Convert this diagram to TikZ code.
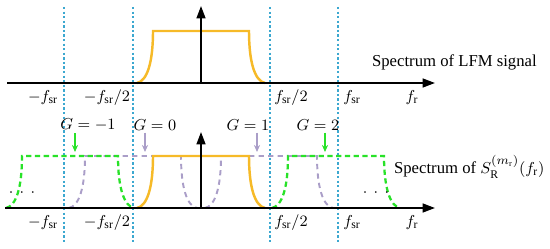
\documentclass[tikz,border=0pt]{standalone}
\usepackage{fontspec}
\setmainfont{Liberation Serif}
\usetikzlibrary{arrows.meta,positioning,calc}
\definecolor{lfmorange}{RGB}{246,186,40}
\definecolor{repgreen}{RGB}{40,226,40}
\definecolor{reppurple}{RGB}{170,158,200}
\definecolor{gridcyan}{RGB}{60,168,208}

\begin{document}
\begin{tikzpicture}[
  x=0.02cm, y=-0.02cm, font=\fontsize{9.5}{11}\selectfont,
  axis/.style={-{Triangle[length=7pt,width=5pt]}, line width=1.1pt},
  grid/.style={gridcyan, line width=0.9pt, dash pattern=on 1.3pt off 1.3pt},
  orig/.style={lfmorange, line width=1.4pt},
  grep/.style={repgreen, line width=1.3pt, dash pattern=on 3pt off 2pt},
  prep/.style={reppurple, line width=1.1pt, dash pattern=on 3pt off 2.4pt},
  gmark/.style={-{Stealth[length=4pt,width=3.5pt]}, line width=0.8pt},
  lbl/.style={inner sep=1pt},
  band/.pic={\draw[pic actions] (-64,0) .. controls (-54,-2) and (-48,-20) .. (-48,-52) -- (48,-52) .. controls (48,-20) and (54,-2) .. (64,0);}
]
\useasboundingbox (0,0) rectangle (550,249);

% sampling grid
\foreach \gx in {64,133,270,338}
  \draw[grid] (\gx,7) -- (\gx,243);

% spectrum of the LFM signal
\pic[orig] at (201,83) {band};
\draw[axis] (7,83) -- (435,83);
\draw[axis] (201,83) -- (201,6);
\node[lbl] (tl1) at (43,98) {$-f_{\mathrm{sr}}$};
\node[lbl] (tl2) at (107,98) {$-f_{\mathrm{sr}}/2$};
\node[lbl] (tl3) at (291,98) {$f_{\mathrm{sr}}/2$};
\node[lbl] (tl4) at (352,98) {$f_{\mathrm{sr}}$};
\node[lbl] (tl5) at (412,98) {$f_{\mathrm{r}}$};
\node[lbl, anchor=west] (ttl) at (370,62) {Spectrum of LFM signal};

% spectrum after range sampling
\pic[prep] at (133,208) {band};
\pic[prep] at (269,208) {band};
\pic[grep] at (70,208) {band};
\pic[grep] at (336,208) {band};
\pic[orig] at (201,208) {band};
\draw[axis] (5,208) -- (435,208);
\draw[axis] (201,208) -- (201,132);
\node[lbl] (bl1) at (43,223) {$-f_{\mathrm{sr}}$};
\node[lbl] (bl2) at (107,223) {$-f_{\mathrm{sr}}/2$};
\node[lbl] (bl3) at (291,223) {$f_{\mathrm{sr}}/2$};
\node[lbl] (bl4) at (352,223) {$f_{\mathrm{sr}}$};
\node[lbl] (bl5) at (412,223) {$f_{\mathrm{r}}$};
\node[lbl, anchor=west] (btl) at (392,167) {Spectrum of $S_{\mathrm{R}}^{(m_{\mathrm{r}})}(f_{\mathrm{r}})$};
\node[lbl] (dl) at (22,193) {$\cdot\,\cdot\,\cdot$};
\node[lbl] (dr) at (376,193) {$\cdot\,\cdot\,\cdot$};

% replica indices
\node[lbl] (gm1) at (88,125) {$G=-1$};
\node[lbl] (g0) at (155,125) {$G=0$};
\node[lbl] (g1) at (248,125) {$G=1$};
\node[lbl] (g2) at (318,125) {$G=2$};
\coordinate (am1) at (75,152);
\coordinate (a0) at (145,152);
\coordinate (a1) at (257,152);
\coordinate (a2) at (325,152);
\draw[gmark, repgreen] (gm1.south -| am1) -- (am1);
\draw[gmark, reppurple] (g0.south -| a0) -- (a0);
\draw[gmark, reppurple] (g1.south -| a1) -- (a1);
\draw[gmark, repgreen] (g2.south -| a2) -- (a2);
\end{tikzpicture}
\end{document}
